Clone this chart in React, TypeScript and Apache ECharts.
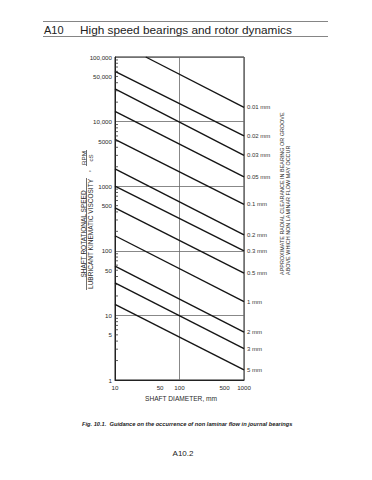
import React, { useEffect, useRef } from "react";
import * as echarts from "echarts";

const FONT = '"Liberation Sans", Arial, Helvetica, sans-serif';

// Radial clearance lines (label, left end, right end)
const clearanceLabels = ["0.01 mm", "0.02 mm", "0.03 mm", "0.05 mm", "0.1 mm", "0.2 mm", "0.3 mm", "0.5 mm", "1 mm", "2 mm", "3 mm", "5 mm"];
const startDiameter = [30, 10, 10, 10, 10, 10, 10, 10, 10, 10, 10, 10];
const startSpeed = [100000, 60000, 32000, 14400, 5300, 1850, 1000, 460, 171, 58, 32, 14.8];
const endDiameter = [1000, 1000, 1000, 1000, 1000, 1000, 1000, 1000, 1000, 1000, 1000, 1000];
const endSpeed = [16600, 5990, 3010, 1390, 525, 176, 100, 45, 16.3, 5.5, 3.05, 1.43];

// Axis ticks
const xTickValues = [10, 50, 100, 500, 1000];
const yTickValues = [1, 5, 10, 50, 100, 500, 1000, 5000, 10000, 50000, 100000];
const yMinorTickValues = [
  2, 3, 4, 5, 6, 7, 8, 9,
  20, 30, 40, 50, 60, 70, 80, 90,
  200, 300, 400, 500, 600, 700, 800, 900,
  2000, 3000, 4000, 5000, 6000, 7000, 8000, 9000,
  20000, 30000, 40000, 50000, 60000, 70000, 80000, 90000,
];

const X_MIN = 10;
const X_MAX = 1000;
const Y_MIN = 1;
const Y_MAX = 100000;

const fmtY = (v: number) => (v >= 10000 ? v.toLocaleString("en-US") : String(v));

export default function App() {
  const ref = useRef<HTMLDivElement>(null);

  useEffect(() => {
    if (!ref.current) return;
    const chart = echarts.init(ref.current, null, { renderer: "svg" });

    const lineSeries = clearanceLabels.map((name, i) => ({
      type: "line",
      name,
      data: [
        [startDiameter[i], startSpeed[i]],
        [endDiameter[i], endSpeed[i]],
      ],
      symbol: "none",
      clip: true,
      silent: true,
      lineStyle: { color: "#151515", width: 1.4 },
      endLabel: {
        show: true,
        formatter: () => name,
        fontSize: 6,
        fontFamily: FONT,
        color: "#333",
        distance: 3,
      },
      z: 3,
    }));

    const minorTicks = {
      type: "custom",
      silent: true,
      data: yMinorTickValues.map((v) => [X_MIN, v]),
      renderItem: (_params: any, api: any) => {
        const p = api.coord([api.value(0), api.value(1)]);
        return {
          type: "line",
          shape: { x1: p[0], y1: p[1], x2: p[0] + 3, y2: p[1] },
          style: { stroke: "#333", lineWidth: 0.8 },
        };
      },
      z: 4,
    };

    const textColor = "#2a2a2a";

    chart.setOption({
      animation: false,
      backgroundColor: "#ffffff",
      grid: {
        left: 115,
        top: 57,
        width: 129,
        height: 323,
        show: true,
        borderColor: "#222",
        borderWidth: 1,
        backgroundColor: "transparent",
      },
      xAxis: {
        type: "log",
        logBase: 10,
        min: X_MIN,
        max: X_MAX,
        axisLine: { show: true, lineStyle: { color: "#222", width: 1 } },
        axisTick: { show: false },
        axisLabel: {
          customValues: xTickValues,
          fontSize: 6.2,
          fontFamily: FONT,
          color: textColor,
          margin: 4,
          formatter: (v: number) => String(v),
        },
        splitLine: { show: true, lineStyle: { color: "#6a6a6a", width: 0.8 } },
        minorTick: { show: false },
      },
      yAxis: {
        type: "log",
        logBase: 10,
        min: Y_MIN,
        max: Y_MAX,
        axisLine: { show: true, lineStyle: { color: "#222", width: 1 } },
        axisTick: { show: false },
        axisLabel: {
          customValues: yTickValues,
          fontSize: 6.2,
          fontFamily: FONT,
          color: textColor,
          margin: 3,
          formatter: (v: number) => fmtY(v),
        },
        splitLine: { show: true, lineStyle: { color: "#6a6a6a", width: 0.8 } },
      },
      series: [...lineSeries, minorTicks],
      graphic: [
        // Header rules and title
        { type: "line", shape: { x1: 43, y1: 21.5, x2: 328, y2: 21.5 }, style: { stroke: "#666", lineWidth: 0.8 } },
        { type: "line", shape: { x1: 43, y1: 36.5, x2: 328, y2: 36.5 }, style: { stroke: "#666", lineWidth: 0.8 } },
        { type: "text", x: 44, y: 29.5, style: { text: "A10", fontSize: 11, fontFamily: FONT, fill: "#222", align: "left", verticalAlign: "middle" } },
        { type: "text", x: 80, y: 29.5, style: { text: "High speed bearings and rotor dynamics", fontSize: 11.8, fontFamily: FONT, fill: "#222", align: "left", verticalAlign: "middle" } },

        // Left (y) axis title as a fraction
        { type: "text", x: 83, y: 234, rotation: Math.PI / 2, style: { text: "SHAFT ROTATIONAL SPEED", fontSize: 6.5, fontFamily: FONT, fill: textColor, align: "center", verticalAlign: "middle" } },
        { type: "line", shape: { x1: 86.5, y1: 178, x2: 86.5, y2: 290 }, style: { stroke: "#333", lineWidth: 0.7 } },
        { type: "text", x: 90.5, y: 234, rotation: Math.PI / 2, style: { text: "LUBRICANT KINEMATIC VISCOSITY", fontSize: 6.5, fontFamily: FONT, fill: textColor, align: "center", verticalAlign: "middle" } },
        { type: "text", x: 87, y: 171, rotation: Math.PI / 2, style: { text: ",", fontSize: 6.5, fontFamily: FONT, fill: textColor, align: "center", verticalAlign: "middle" } },
        { type: "text", x: 83, y: 158, rotation: Math.PI / 2, style: { text: "RPM", fontSize: 6.2, fontFamily: FONT, fill: textColor, align: "center", verticalAlign: "middle" } },
        { type: "line", shape: { x1: 86.5, y1: 150, x2: 86.5, y2: 166 }, style: { stroke: "#333", lineWidth: 0.7 } },
        { type: "text", x: 90.5, y: 158, rotation: Math.PI / 2, style: { text: "cS", fontSize: 6.2, fontFamily: FONT, fill: textColor, align: "center", verticalAlign: "middle" } },

        // Right vertical description
        { type: "text", x: 282, y: 275, rotation: Math.PI / 2, style: { text: "APPROXIMATE RADIAL CLEARANCE IN BEARING OR GROOVE", fontSize: 5.45, fontFamily: FONT, fill: textColor, align: "left", verticalAlign: "middle" } },
        { type: "text", x: 288, y: 275, rotation: Math.PI / 2, style: { text: "ABOVE WHICH NON LAMINAR FLOW MAY OCCUR", fontSize: 5.45, fontFamily: FONT, fill: textColor, align: "left", verticalAlign: "middle" } },

        // X axis title
        { type: "text", x: 181, y: 398, style: { text: "SHAFT DIAMETER, mm", fontSize: 6.6, fontFamily: FONT, fill: textColor, align: "center", verticalAlign: "middle" } },

        // Caption and page number
        { type: "text", x: 82, y: 424, style: { text: "Fig. 10.1.  Guidance on the occurrence of non laminar flow in journal bearings", fontSize: 5.7, fontWeight: "bold", fontStyle: "italic", fontFamily: FONT, fill: "#222", align: "left", verticalAlign: "middle" } },
        { type: "text", x: 183, y: 453, style: { text: "A10.2", fontSize: 8, fontFamily: FONT, fill: "#222", align: "center", verticalAlign: "middle" } },
      ],
    });

    return () => chart.dispose();
  }, []);

  return (
    <div
      ref={ref}
      style={{ position: "absolute", left: 0, top: 0, width: 372, height: 480, background: "#fff" }}
    />
  );
}
